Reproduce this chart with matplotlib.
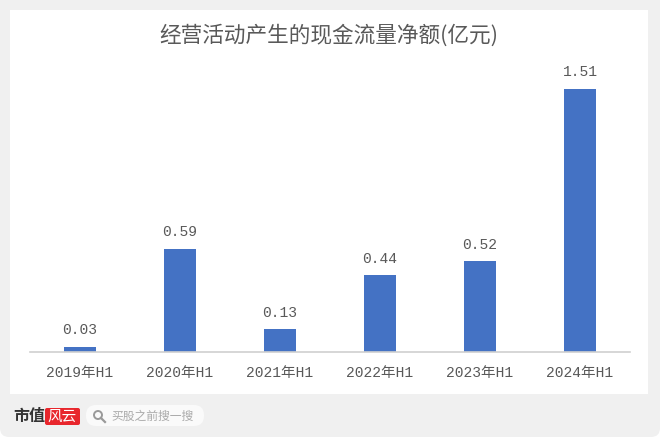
"""Net operating cash flow, H1 2019-2024, bar chart on a grey card."""
import matplotlib

matplotlib.use("Agg")
import matplotlib.pyplot as plt
from matplotlib.patches import Circle, FancyBboxPatch, Rectangle

plt.rcParams["font.family"] = ["Liberation Mono", "Noto Sans CJK SC"]

PERIODS = ["2019年H1", "2020年H1", "2021年H1", "2022年H1", "2023年H1", "2024年H1"]
CASH_FLOW = [0.03, 0.59, 0.13, 0.44, 0.52, 1.51]
TITLE = "经营活动产生的现金流量净额(亿元)"

W, H = 660, 437
BAR_COLOR = "#4472C4"
TEXT_COLOR = "#595959"
CARD_GREY = "#f0f0f0"


def main():
    fig = plt.figure(figsize=(W / 100, H / 100), dpi=100, facecolor="white")

    # full-figure layer in pixel coords for the card and footer
    bg = fig.add_axes([0, 0, 1, 1])
    bg.set_xlim(0, W); bg.set_ylim(H, 0); bg.axis("off")
    # grey backdrop has rounded bottom corners, top runs off the canvas
    bg.add_patch(FancyBboxPatch((0, -20), W, H + 20, boxstyle="round,pad=0,rounding_size=9",
                                fc=CARD_GREY, ec="none"))
    bg.add_patch(Rectangle((10, 10), 638, 384, fc="white", ec="none"))

    bg.text(329, 36, TITLE, ha="center", va="center", fontsize=15.6,
            color=TEXT_COLOR, family=["Noto Sans CJK SC"], fontweight="light")

    # footer
    bg.text(13, 416, "市值", ha="left", va="center", fontsize=11.5,
            color="#333333", family=["Noto Sans CJK SC"], fontweight="bold")
    bg.add_patch(FancyBboxPatch((45, 408), 35, 17, boxstyle="round,pad=0,rounding_size=2",
                                fc="#e8262c", ec="none"))
    bg.text(62.5, 416.5, "风云", ha="center", va="center", fontsize=10.5, style="italic",
            color="white", family=["Noto Sans CJK SC"])
    bg.add_patch(FancyBboxPatch((86, 405), 118, 21, boxstyle="round,pad=0,rounding_size=10",
                                fc="#fafafa", ec="none"))
    bg.add_patch(Circle((98, 415), 4, fc="none", ec="#9a9a9a", lw=1.4))
    bg.plot([101, 105], [418, 422], color="#9a9a9a", lw=1.6)
    bg.text(111, 416, "买股之前搜一搜", ha="left", va="center", fontsize=8.5,
            color="#aaaaaa", family=["Noto Sans CJK SC"])

    # axes: baseline at y=352px, spans x=30..630
    ax = fig.add_axes([30 / W, 1 - 352 / H, 600 / W, 300 / H])
    ax.patch.set_alpha(0)
    x = range(len(PERIODS))
    bars = ax.bar(x, CASH_FLOW, width=0.32, color=BAR_COLOR)
    ax.set_xlim(-0.5, 5.5)
    ax.set_ylim(0, 1.722)
    ax.set_xticks(list(x), PERIODS)
    ax.set_yticks([])
    ax.tick_params(axis="x", length=0, pad=10, labelsize=10.5, labelcolor=TEXT_COLOR)
    for side in ("top", "left", "right"):
        ax.spines[side].set_visible(False)
    ax.spines["bottom"].set_color("#d0d0d0")
    ax.spines["bottom"].set_linewidth(1.2)
    ax.bar_label(bars, fmt="%.2f", padding=7, fontsize=10.5, color=TEXT_COLOR)

    fig.savefig("out.png", dpi=100, facecolor=fig.get_facecolor())
    plt.close(fig)


if __name__ == "__main__":
    main()
